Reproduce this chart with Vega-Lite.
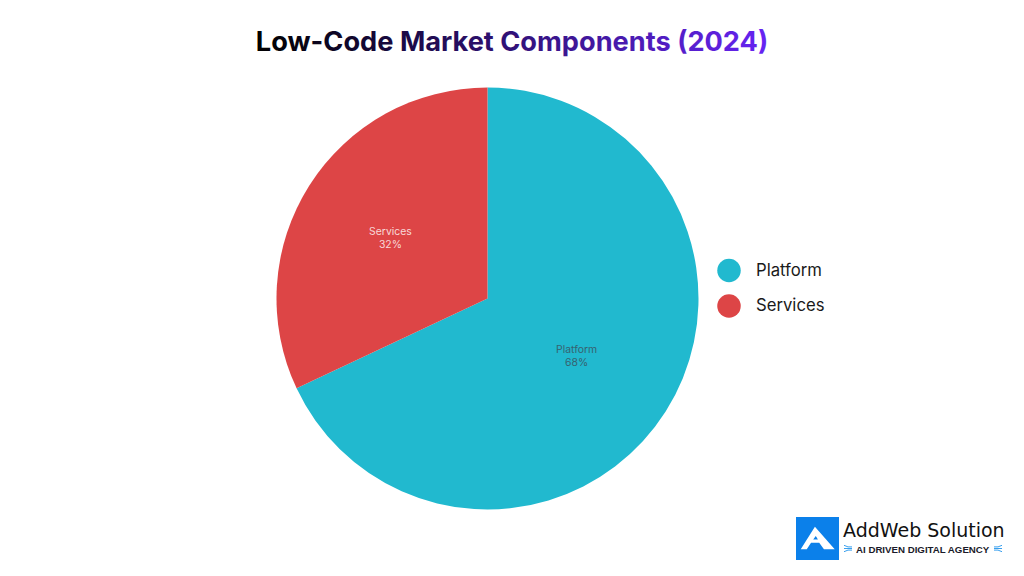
{
  "$schema": "https://vega.github.io/schema/vega-lite/v6.json",
  "width": 422,
  "height": 422,
  "autosize": "none",
  "padding": {"left": 276.5, "top": 87.5, "right": 325.5, "bottom": 66.5},
  "background": "white",
  "data": {"values": [
    {"category": "Platform", "value": 68},
    {"category": "Services", "value": 32}
  ]},
  "transform": [
    {"calculate": "datum.category + '\\n' + datum.value + '%'", "as": "label"},
    {"stack": "value", "sort": [{"field": "category", "order": "ascending"}], "as": ["v0", "v1"]},
    {"calculate": "(datum.v0 + datum.v1) / 2", "as": "mid"}
  ],
  "layer": [
    {
      "mark": {"type": "arc", "radius": 211},
      "encoding": {
        "theta": {"field": "v0", "type": "quantitative", "scale": {"domain": [0, 100]}},
        "theta2": {"field": "v1"},
        "color": {
          "field": "category",
          "type": "nominal",
          "scale": {"domain": ["Platform", "Services"], "range": ["#21B9CF", "#DD4546"]},
          "legend": {
            "title": null,
            "orient": "none",
            "legendX": 440.5,
            "legendY": 171,
            "symbolType": "circle",
            "symbolSize": 552,
            "symbolStrokeWidth": 0,
            "symbolOpacity": 1,
            "labelFont": "Inter",
            "labelFontSize": 16.7,
            "labelColor": "#1a1a1a",
            "labelOffset": 15,
            "rowPadding": 11.5
          }
        }
      }
    },
    {
      "transform": [{"filter": "datum.category === 'Platform'"}],
      "mark": {"type": "text", "radius": 105.5, "dy": -5, "font": "Inter", "fontSize": 10.4, "lineBreak": "\n", "lineHeight": 13, "color": "#37626f"},
      "encoding": {
        "theta": {"field": "mid", "type": "quantitative", "scale": {"domain": [0, 100]}},
        "text": {"field": "label", "type": "nominal"}
      }
    },
    {
      "transform": [{"filter": "datum.category === 'Services'"}],
      "mark": {"type": "text", "radius": 115, "dy": -5, "font": "Inter", "fontSize": 10.4, "lineBreak": "\n", "lineHeight": 13, "color": "#f8d8d8"},
      "encoding": {
        "theta": {"field": "mid", "type": "quantitative", "scale": {"domain": [0, 100]}},
        "text": {"field": "label", "type": "nominal"}
      }
    },
    {
      "data": {"values": [{"text": "Low-Code Market Components (2024)"}]},
      "transform": [],
      "mark": {
        "type": "text", "align": "center", "baseline": "alphabetic",
        "x": 235.5, "y": -36.5,
        "font": "Inter", "fontSize": 27.2, "fontWeight": 700,
        "fill": {"gradient": "linear", "x1": 0, "y1": 0, "x2": 1, "y2": 0, "stops": [{"offset": 0, "color": "#000000"}, {"offset": 0.3, "color": "#1c0a48"}, {"offset": 1, "color": "#6724f4"}]}
      },
      "encoding": {"text": {"field": "text", "type": "nominal"}}
    },
    {
      "data": {"values": [{"text": "AddWeb Solution"}]},
      "transform": [],
      "mark": {"type": "text", "align": "left", "baseline": "alphabetic", "x": 566.5, "y": 449, "font": "DejaVu Sans", "fontSize": 19, "color": "#111111"},
      "encoding": {"text": {"field": "text", "type": "nominal"}}
    },
    {
      "data": {"values": [{"text": "AI DRIVEN DIGITAL AGENCY"}]},
      "transform": [],
      "mark": {"type": "text", "align": "left", "baseline": "alphabetic", "x": 579.5, "y": 465, "font": "Liberation Sans", "fontSize": 9.7, "fontWeight": 700, "color": "#1a1a2a"},
      "encoding": {"text": {"field": "text", "type": "nominal"}}
    },
    {
      "data": {"values": [{"name": "logo"}]},
      "transform": [],
      "mark": {"type": "point", "shape": "square", "filled": true, "opacity": 1, "x": 541, "y": 451, "size": 1849, "color": "#0B80EA"},
      "encoding": {}
    },
    {
      "data": {"values": [{"name": "logo"}]},
      "transform": [],
      "mark": {"type": "point", "shape": "M-0.12 -0.55 L0.8 0.5 L0.3 0.5 L0.08 0.2 L-0.3 0.2 L-0.5 0.5 L-0.78 0.5 Z M-0.08 -0.12 L-0.2 0.05 L0.02 0.05 Z", "filled": true, "opacity": 1, "x": 541, "y": 451, "size": 1849, "color": "#ffffff"},
      "encoding": {}
    },
    {
      "data": {"values": [{"name": "logo"}]},
      "transform": [],
      "mark": {"type": "point", "shape": "M-1 -0.8 L0 -0.4 L1 -0.4 M-1 0 L1 0 M-1 0.8 L0 0.4 L1 0.4", "filled": false, "opacity": 1, "strokeWidth": 1, "x": 571.5, "y": 461, "size": 64, "color": "#3aa0ee"},
      "encoding": {}
    },
    {
      "data": {"values": [{"name": "logo"}]},
      "transform": [],
      "mark": {"type": "point", "shape": "M1 -0.8 L0 -0.4 L-1 -0.4 M-1 0 L1 0 M1 0.8 L0 0.4 L-1 0.4", "filled": false, "opacity": 1, "strokeWidth": 1, "x": 721.5, "y": 461, "size": 64, "color": "#3aa0ee"},
      "encoding": {}
    }
  ],
  "config": {"view": {"stroke": null}}
}
